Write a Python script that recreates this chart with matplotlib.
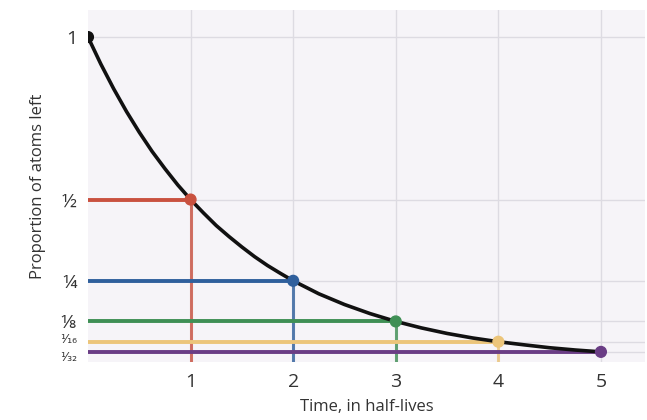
import numpy as np
import matplotlib
matplotlib.use('Agg')
import matplotlib.pyplot as plt
import matplotlib.transforms as mtransforms

# half-life points
half_lives = [0, 1, 2, 3, 4, 5]
proportion = [1, 1/2, 1/4, 1/8, 1/16, 1/32]
point_colors = ['#111111', '#c9513f', '#2f5f9c', '#3f8f55', '#ecc57a', '#6a3d85']
ytick_labels = ['1', '½', '¼', '⅛', '¹⁄₁₆', '¹⁄₃₂']

# decay curve
curve_t = [0, 0.125, 0.25, 0.375, 0.5, 0.625, 0.75, 0.875, 1, 1.125, 1.25,
           1.375, 1.5, 1.625, 1.75, 1.875, 2, 2.25, 2.5, 2.75, 3,
           3.25, 3.5, 3.75, 4, 4.25, 4.5, 4.75, 5]
curve_y = [1.0, 0.917, 0.841, 0.771, 0.707, 0.648, 0.595, 0.545, 0.5, 0.459,
           0.42, 0.386, 0.354, 0.324, 0.297, 0.273, 0.25, 0.21, 0.177, 0.149,
           0.125, 0.105, 0.088, 0.074, 0.0625, 0.053, 0.044, 0.037, 0.03125]

plt.rcParams['font.family'] = ['Open Sans', 'DejaVu Sans']

fig = plt.figure(figsize=(6.47, 4.2), dpi=100)
ax = fig.add_axes([0.136, 0.138, 0.861, 0.838])
ax.set_facecolor('#f6f4f8')

ax.set_xlim(0, 5.43)
ax.set_ylim(0, 1.083)

# guide lines to each half-life point
for t, p, c in zip(half_lives[1:], proportion[1:], point_colors[1:]):
    ax.plot([0, t], [p, p], color=c, lw=2.8, solid_capstyle='butt', zorder=3)
    if t < 5:
        ax.plot([t, t], [p, 0], color=c, lw=2.2, alpha=0.8, zorder=2)

ax.plot(curve_t, curve_y, color='#111111', lw=2.6, zorder=4,
        solid_joinstyle='round', solid_capstyle='round')
ax.scatter(half_lives, proportion, c=point_colors, s=60, zorder=5)

ax.set_xticks([1, 2, 3, 4, 5])
ax.set_yticks(proportion)
ax.set_yticklabels(ytick_labels)
ax.tick_params(length=0, labelsize=14, colors='#333333', pad=8)

# the two smallest fractions sit very close: shrink and nudge apart
labels = ax.get_yticklabels()
for lab, dy in zip(labels[4:], [3, -3]):
    lab.set_family('DejaVu Sans')
    lab.set_fontsize(9)
    lab.set_transform(lab.get_transform() +
                      mtransforms.ScaledTranslation(0, dy / 72, fig.dpi_scale_trans))

ax.grid(True, color='#dddbe2', lw=1)
ax.set_axisbelow(True)
for s in ax.spines.values():
    s.set_visible(False)

ax.set_xlabel('Time, in half-lives', fontsize=12, color='#333333', labelpad=6)
ax.set_ylabel('Proportion of atoms left', fontsize=12, color='#333333', labelpad=10)

fig.savefig('out.png', dpi=100)
